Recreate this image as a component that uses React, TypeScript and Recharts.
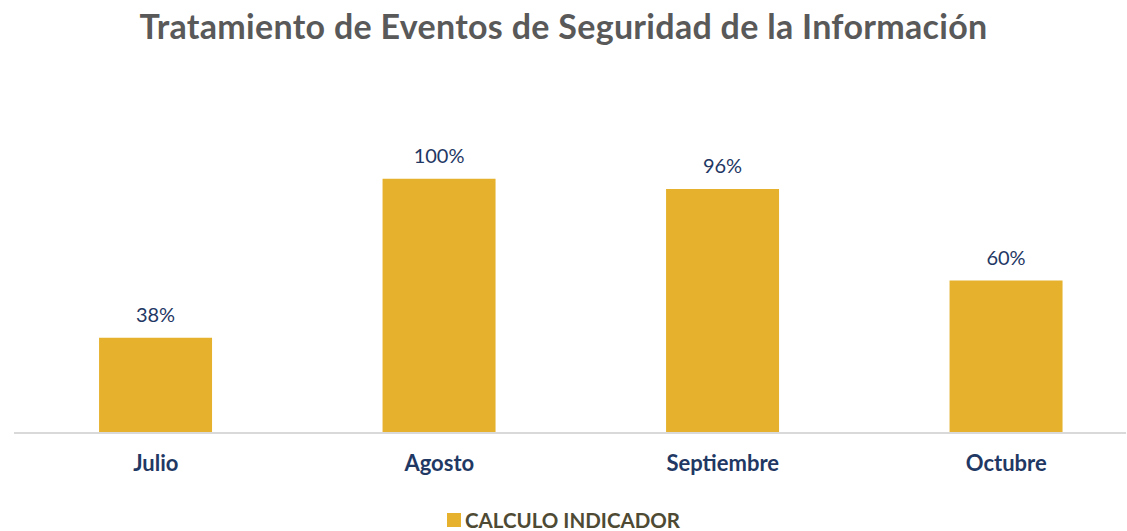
import { Bar, BarChart, LabelList, XAxis, YAxis } from "recharts";

const months = ["Julio", "Agosto", "Septiembre", "Octubre"];
const calculo = [37.5, 100, 96, 60];

const data = months.map((mes, i) => ({ mes, calculo: calculo[i] }));

const NAVY = "#1F3864";
const GOLD = "#E6B22E";
const FONT = "Lato, 'Open Sans', sans-serif";

export default function App() {
  return (
    <div
      style={{
        position: "absolute",
        left: 0,
        top: 0,
        width: 1127,
        height: 531,
        background: "#fff",
        fontFamily: FONT,
      }}
    >
      <div
        style={{
          position: "absolute",
          top: 4,
          left: 0,
          width: 1127,
          textAlign: "center",
          fontSize: 34,
          fontWeight: 700,
          letterSpacing: 0.3,
          color: "#595959",
          lineHeight: "44px",
        }}
      >
        Tratamiento de Eventos de Seguridad de la Información
      </div>
      <BarChart
        width={1127}
        height={531}
        data={data}
        margin={{ top: 128, right: 1, left: 14, bottom: 58 }}
        barCategoryGap="30%"
      >
        <XAxis
          dataKey="mes"
          height={40}
          padding={{ left: 0, right: -22 }}
          axisLine={{ stroke: "#D9D9D9", strokeWidth: 2 }}
          tickLine={false}
          tickSize={0}
          tickMargin={22}
          tick={{ fill: NAVY, fontSize: 22, fontWeight: 700, fontFamily: FONT }}
        />
        <YAxis hide domain={[0, 120]} />
        <Bar dataKey="calculo" fill={GOLD} isAnimationActive={false}>
          <LabelList
            dataKey="calculo"
            position="top"
            offset={16}
            formatter={(v: number) => `${Math.round(v)}%`}
            style={{ fill: NAVY, fontSize: 20, fontFamily: FONT }}
          />
        </Bar>
      </BarChart>
      <div
        style={{
          position: "absolute",
          top: 508,
          left: 0,
          width: 1127,
          display: "flex",
          justifyContent: "center",
          alignItems: "center",
          fontSize: 20.5,
          fontWeight: 700,
          color: "#4E4A33",
        }}
      >
        <span
          style={{
            display: "inline-block",
            width: 14,
            height: 14,
            background: GOLD,
            marginRight: 4,
          }}
        />
        CALCULO INDICADOR
      </div>
    </div>
  );
}
